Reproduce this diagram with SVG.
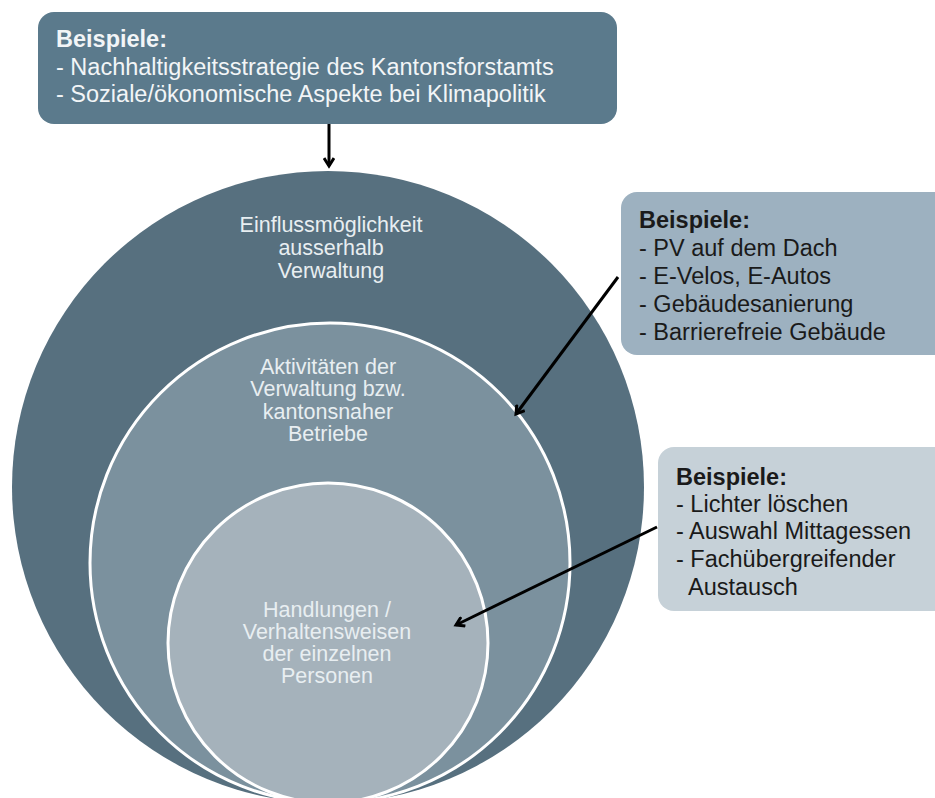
<svg xmlns="http://www.w3.org/2000/svg" width="935" height="798" viewBox="0 0 935 798">
<style>
  .lbl { font-family: "Liberation Sans", Arial, sans-serif; font-size: 21.5px; fill: #e8eef1; text-anchor: middle; }
  .box { font-family: "Liberation Sans", Arial, sans-serif; font-size: 23.5px; }
  .light { fill: #f2f5f7; }
  .dark { fill: #1a1a1a; }
  .b { font-weight: bold; }
  .conn { stroke: #000; stroke-width: 3; fill: none; marker-end: url(#ah); }
</style>
<defs>
  <marker id="ah" markerWidth="12" markerHeight="12" refX="9" refY="6" orient="auto" markerUnits="userSpaceOnUse">
    <path d="M1,1 L9,6 L1,11" fill="none" stroke="#000" stroke-width="3" stroke-linejoin="miter"/>
  </marker>
</defs>
<rect width="935" height="798" fill="#ffffff"/>

<g id="circle-outer">
  <circle cx="328" cy="487" r="316" fill="#57707f"/>
  <text class="lbl"><tspan x="331" y="232">Einflussmöglichkeit</tspan><tspan x="331" y="255">ausserhalb</tspan><tspan x="331" y="278">Verwaltung</tspan></text>
</g>
<g id="circle-middle">
  <circle cx="330" cy="563" r="240" fill="#7b919e" stroke="#ffffff" stroke-width="3"/>
  <text class="lbl"><tspan x="328" y="374">Aktivitäten der</tspan><tspan x="328" y="396">Verwaltung bzw.</tspan><tspan x="328" y="419">kantonsnaher</tspan><tspan x="328" y="441">Betriebe</tspan></text>
</g>
<g id="circle-inner">
  <circle cx="328" cy="643" r="160" fill="#a5b2bb" stroke="#ffffff" stroke-width="3"/>
  <text class="lbl"><tspan x="327" y="617">Handlungen /</tspan><tspan x="327" y="639">Verhaltensweisen</tspan><tspan x="327" y="661">der einzelnen</tspan><tspan x="327" y="683">Personen</tspan></text>
</g>

<g id="box-top">
  <rect x="38" y="12" width="579" height="112" rx="16" fill="#5b7a8c"/>
  <text class="box light"><tspan x="56" y="47" class="b">Beispiele:</tspan><tspan x="56" y="75">- Nachhaltigkeitsstrategie des Kantonsforstamts</tspan><tspan x="56" y="102">- Soziale/ökonomische Aspekte bei Klimapolitik</tspan></text>
</g>
<g id="box-right1">
  <rect x="621" y="192" width="330" height="163" rx="16" fill="#9db1c0"/>
  <text class="box dark"><tspan x="639" y="228" class="b">Beispiele:</tspan><tspan x="639" y="256">- PV auf dem Dach</tspan><tspan x="639" y="284">- E-Velos, E-Autos</tspan><tspan x="639" y="312">- Gebäudesanierung</tspan><tspan x="639" y="340">- Barrierefreie Gebäude</tspan></text>
</g>
<g id="box-right2">
  <rect x="658" y="447" width="300" height="164" rx="16" fill="#c6d1d8"/>
  <text class="box dark"><tspan x="676" y="485" class="b">Beispiele:</tspan><tspan x="676" y="512">- Lichter löschen</tspan><tspan x="676" y="539">- Auswahl Mittagessen</tspan><tspan x="676" y="567">- Fachübergreifender</tspan><tspan x="688" y="595">Austausch</tspan></text>
</g>

<g id="connectors">
  <line class="conn" x1="329" y1="124" x2="329" y2="166"/>
  <line class="conn" x1="618" y1="277" x2="516" y2="414"/>
  <line class="conn" x1="657" y1="527" x2="456" y2="625"/>
</g>
</svg>
